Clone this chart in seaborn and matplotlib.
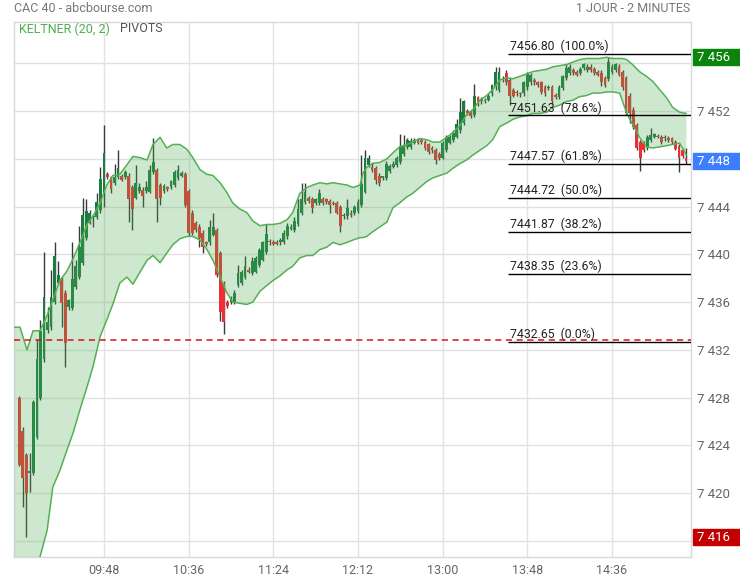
import matplotlib
matplotlib.use("Agg")
import matplotlib.pyplot as plt
import seaborn as sns
import pandas as pd
from matplotlib.patches import Rectangle
from matplotlib.transforms import blended_transform_factory

# ==============================
# DATA (CAC 40, 2-minute candles from 09:00)
# ==============================
opens = [
    7428.0, 7425.2, 7423.2, 7421.7, 7421.7, 7424.7, 7428.0, 7431.2, 7433.7, 7433.9,
    7436.0, 7437.6, 7437.9, 7436.8, 7435.6, 7435.5, 7437.3, 7438.1, 7439.3, 7441.4,
    7442.6, 7443.1, 7443.1, 7443.7, 7445.1, 7446.7, 7446.5, 7446.0, 7446.5, 7446.6,
    7446.5, 7446.6, 7445.6, 7444.7, 7445.3, 7445.4, 7445.3, 7445.2, 7446.9, 7447.1,
    7445.8, 7445.3, 7445.6, 7445.6, 7445.8, 7446.4, 7446.6, 7446.7, 7445.3, 7443.5,
    7442.6, 7442.3, 7441.8, 7441.0, 7441.0, 7441.6, 7442.0, 7440.1, 7437.6, 7436.0,
    7436.0, 7436.0, 7437.4, 7437.6, 7438.1, 7438.7, 7438.4, 7438.5, 7439.1, 7439.5,
    7440.2, 7441.1, 7441.0, 7441.0, 7441.0, 7441.0, 7441.5, 7442.1, 7442.0, 7442.5,
    7443.5, 7444.4, 7444.7, 7444.6, 7444.3, 7444.3, 7444.6, 7444.6, 7444.5, 7444.3,
    7444.3, 7444.0, 7443.2, 7443.2, 7443.5, 7443.5, 7443.6, 7444.1, 7445.2, 7447.5,
    7447.3, 7447.2, 7446.6, 7446.4, 7446.4, 7447.0, 7447.3, 7447.5, 7447.7, 7448.4,
    7449.0, 7449.0, 7449.3, 7449.5, 7449.6, 7449.4, 7449.2, 7448.9, 7448.7, 7448.4,
    7448.1, 7448.7, 7449.3, 7449.6, 7449.8, 7450.4, 7451.0, 7452.0, 7451.9, 7451.7,
    7453.2, 7452.8, 7452.9, 7452.9, 7453.5, 7454.0, 7453.8, 7454.6, 7455.2, 7454.6,
    7453.8, 7453.6, 7453.5, 7453.5, 7454.0, 7454.4, 7454.6, 7454.4, 7454.4, 7454.0,
    7453.9, 7454.0, 7453.3, 7453.2, 7453.9, 7454.8, 7455.2, 7455.4, 7455.3, 7455.2,
    7455.6, 7455.4, 7455.7, 7455.5, 7455.3, 7455.2, 7454.8, 7454.7, 7455.3, 7455.4,
    7455.7, 7455.3, 7454.8, 7453.3, 7452.1, 7450.8, 7449.4, 7449.3, 7448.9, 7449.6,
    7449.8, 7449.9, 7449.8, 7449.7, 7449.7, 7449.7, 7449.4, 7449.1, 7448.7, 7448.1,
]
closes = [
    7422.4, 7421.3, 7420.0, 7421.8, 7427.6, 7431.2, 7433.6, 7436.4, 7434.3, 7436.4,
    7439.9, 7438.3, 7435.9, 7432.6, 7436.2, 7437.9, 7439.0, 7440.6, 7443.3, 7443.6,
    7443.5, 7443.2, 7444.4, 7446.3, 7448.5, 7446.5, 7445.5, 7446.5, 7447.2, 7446.2,
    7446.9, 7444.6, 7443.8, 7446.0, 7445.6, 7444.9, 7445.6, 7447.1, 7447.7, 7444.6,
    7444.7, 7445.7, 7445.5, 7446.1, 7446.9, 7447.1, 7446.8, 7444.1, 7441.8, 7441.8,
    7442.0, 7441.4, 7440.6, 7440.9, 7442.3, 7442.3, 7438.3, 7435.2, 7434.3, 7435.7,
    7436.3, 7436.8, 7438.4, 7438.5, 7439.0, 7438.5, 7439.4, 7439.7, 7440.4, 7441.0,
    7441.7, 7441.0, 7440.9, 7440.9, 7441.2, 7441.8, 7442.4, 7442.3, 7442.8, 7443.8,
    7444.6, 7445.2, 7444.5, 7443.9, 7444.6, 7445.1, 7444.3, 7444.4, 7444.1, 7444.2,
    7443.5, 7442.4, 7443.3, 7443.9, 7443.3, 7444.0, 7444.4, 7445.9, 7448.1, 7448.1,
    7447.1, 7446.2, 7446.0, 7446.5, 7447.6, 7447.4, 7447.6, 7448.1, 7449.1, 7449.1,
    7449.6, 7449.5, 7449.6, 7449.3, 7449.4, 7448.9, 7448.6, 7448.7, 7447.9, 7448.1,
    7449.3, 7449.8, 7449.8, 7450.2, 7450.9, 7451.9, 7452.8, 7451.8, 7451.6, 7453.3,
    7452.6, 7453.0, 7452.8, 7453.3, 7454.2, 7455.3, 7455.3, 7454.7, 7454.4, 7453.3,
    7453.3, 7453.5, 7453.4, 7454.4, 7455.2, 7455.0, 7454.4, 7454.2, 7453.6, 7453.5,
    7454.0, 7452.8, 7453.2, 7454.0, 7454.9, 7455.6, 7455.7, 7455.2, 7455.0, 7455.5,
    7455.9, 7455.7, 7455.4, 7455.2, 7455.0, 7454.4, 7454.2, 7456.1, 7455.7, 7455.9,
    7455.0, 7454.0, 7451.8, 7451.8, 7450.7, 7448.9, 7448.1, 7448.7, 7449.8, 7450.0,
    7450.1, 7449.8, 7449.4, 7449.8, 7449.6, 7449.4, 7448.8, 7448.1, 7448.2, 7447.8,
]
highs = [
    7428.1, 7425.5, 7423.4, 7423.4, 7427.8, 7432.8, 7434.5, 7440.2, 7435.6, 7438.7,
    7441.0, 7439.4, 7438.1, 7437.0, 7436.3, 7441.0, 7439.5, 7442.4, 7444.7, 7444.6,
    7443.7, 7443.4, 7445.1, 7447.3, 7450.8, 7446.9, 7446.6, 7447.6, 7448.7, 7446.7,
    7447.1, 7446.8, 7445.8, 7447.5, 7446.0, 7445.6, 7446.1, 7447.5, 7449.7, 7447.2,
    7446.0, 7445.9, 7445.7, 7446.2, 7447.1, 7447.5, 7447.0, 7446.9, 7445.5, 7443.7,
    7442.8, 7442.5, 7442.0, 7441.1, 7442.9, 7443.5, 7442.2, 7440.3, 7437.8, 7436.2,
    7436.5, 7437.0, 7439.1, 7438.7, 7439.9, 7438.9, 7439.8, 7439.9, 7440.5, 7441.1,
    7442.5, 7441.3, 7441.2, 7441.2, 7441.4, 7442.0, 7442.6, 7442.5, 7443.1, 7444.6,
    7446.0, 7446.0, 7444.9, 7444.8, 7444.7, 7445.5, 7444.8, 7444.7, 7444.6, 7444.5,
    7444.5, 7444.1, 7443.5, 7444.6, 7443.7, 7444.1, 7444.6, 7448.3, 7448.7, 7448.3,
    7447.7, 7447.4, 7446.8, 7446.6, 7447.8, 7447.6, 7447.8, 7448.2, 7450.1, 7450.0,
    7449.7, 7449.7, 7449.7, 7449.7, 7449.7, 7449.6, 7449.3, 7449.1, 7448.9, 7448.6,
    7449.5, 7450.0, 7450.0, 7450.4, 7451.3, 7453.1, 7452.9, 7452.2, 7452.1, 7454.3,
    7453.3, 7453.2, 7453.1, 7453.5, 7454.3, 7455.7, 7455.7, 7454.9, 7455.4, 7454.8,
    7453.9, 7453.8, 7453.6, 7454.5, 7455.3, 7455.2, 7454.8, 7454.5, 7454.5, 7454.2,
    7454.2, 7454.2, 7453.5, 7454.2, 7455.0, 7455.9, 7455.9, 7455.6, 7455.4, 7455.7,
    7456.0, 7455.9, 7455.9, 7455.7, 7455.4, 7455.4, 7454.9, 7456.5, 7455.9, 7456.0,
    7455.9, 7455.4, 7454.9, 7453.5, 7452.3, 7451.0, 7449.6, 7449.5, 7450.0, 7450.6,
    7450.2, 7450.1, 7450.0, 7450.0, 7449.9, 7449.8, 7449.6, 7449.2, 7448.9, 7448.9,
]
lows = [
    7422.3, 7418.8, 7416.3, 7420.1, 7421.5, 7424.5, 7427.8, 7431.0, 7433.4, 7433.7,
    7435.8, 7437.4, 7433.9, 7430.6, 7435.3, 7435.3, 7437.1, 7437.9, 7439.1, 7441.2,
    7442.5, 7442.3, 7443.0, 7443.5, 7444.0, 7446.3, 7445.1, 7445.8, 7446.3, 7446.1,
    7446.3, 7442.7, 7442.0, 7444.6, 7445.1, 7444.0, 7445.1, 7445.1, 7446.7, 7442.7,
    7444.1, 7445.1, 7445.3, 7445.5, 7445.6, 7446.2, 7446.5, 7444.0, 7441.5, 7441.6,
    7441.9, 7440.6, 7440.1, 7440.7, 7440.8, 7441.5, 7438.1, 7434.4, 7433.3, 7435.5,
    7435.8, 7435.8, 7437.3, 7437.4, 7437.9, 7438.4, 7438.3, 7438.4, 7438.9, 7439.4,
    7440.0, 7440.8, 7440.8, 7440.8, 7440.8, 7440.9, 7441.3, 7442.0, 7441.9, 7442.4,
    7443.3, 7444.2, 7444.3, 7443.5, 7444.1, 7444.1, 7444.1, 7444.2, 7443.5, 7444.1,
    7443.4, 7441.9, 7443.0, 7443.0, 7443.1, 7443.3, 7443.5, 7444.0, 7445.1, 7447.3,
    7446.9, 7445.9, 7445.7, 7446.2, 7446.2, 7446.8, 7447.2, 7447.3, 7447.6, 7448.2,
    7448.8, 7448.8, 7449.2, 7449.2, 7449.2, 7448.7, 7448.4, 7448.5, 7447.6, 7447.9,
    7448.0, 7448.6, 7449.2, 7449.4, 7449.7, 7450.2, 7450.8, 7451.7, 7451.4, 7451.5,
    7452.4, 7452.6, 7452.7, 7452.8, 7453.3, 7453.8, 7453.6, 7454.4, 7454.2, 7452.5,
    7453.2, 7453.3, 7453.2, 7453.3, 7453.8, 7454.2, 7454.2, 7454.0, 7453.4, 7453.3,
    7453.8, 7452.6, 7453.0, 7453.0, 7453.8, 7454.6, 7455.0, 7455.0, 7454.9, 7455.0,
    7455.4, 7455.3, 7455.3, 7455.0, 7454.9, 7454.1, 7454.0, 7454.5, 7455.1, 7455.3,
    7454.9, 7453.8, 7451.7, 7451.0, 7450.5, 7448.7, 7447.0, 7448.6, 7448.7, 7449.4,
    7449.7, 7449.7, 7449.2, 7449.5, 7449.4, 7449.2, 7448.7, 7446.9, 7448.1, 7447.6,
]

# Keltner (20, 2) band (x in candle units)
band_t = [
    -1.3, 0.2, 2.2, 3.9, 5.9, 7.9, 9.5, 11.5, 13.5, 15.2, 17.2, 19.2, 20.9, 22.9,
    24.8, 26.5, 28.5, 30.5, 32.2, 34.2, 36.2, 37.9, 39.9, 41.8, 43.5, 45.5, 47.5,
    49.2, 51.2, 53.2, 54.9, 56.9, 58.8, 60.5, 62.5, 64.5, 66.2, 68.2, 70.2, 71.9,
    73.9, 75.9, 77.5, 79.5, 81.5, 83.2, 85.2, 87.2, 88.9, 90.9, 92.9, 94.6, 96.6,
    97.4, 98.5, 100.2, 102.2, 104.2, 105.9, 107.8, 109.8, 111.5, 113.5, 115.5,
    117.2, 119.2, 121.2, 122.9, 124.9, 126.8, 128.5, 130.5, 132.5, 134.2, 136.2,
    138.2, 139.9, 141.8, 143.8, 145.5, 147.5, 149.5, 151.2, 153.2, 155.2, 156.9,
    158.8, 160.8, 162.5, 164.5, 166.5, 168.2, 170.2, 171.0, 172.2, 173.8, 175.8,
    177.8, 179.5, 181.5, 183.5, 185.2, 187.2, 189.1,
]
band_up = [
    7433.9, 7433.9, 7432.0, 7433.6, 7433.6, 7434.9, 7436.2, 7437.8, 7438.6, 7439.6,
    7441.0, 7442.5, 7443.2, 7444.3, 7445.8, 7446.6, 7446.7, 7447.5, 7448.2, 7448.1,
    7447.9, 7449.2, 7449.8, 7448.9, 7449.2, 7449.2, 7448.8, 7448.1, 7447.1, 7446.7,
    7446.6, 7446.0, 7445.2, 7444.3, 7443.8, 7443.5, 7442.8, 7442.4, 7442.5, 7442.5,
    7442.6, 7442.9, 7443.5, 7445.1, 7445.6, 7445.8, 7446.0, 7445.9, 7446.0, 7445.9,
    7445.8, 7445.6, 7445.8, 7446.8, 7447.3, 7447.6, 7447.7, 7448.0, 7448.5, 7449.0,
    7449.2, 7449.4, 7449.7, 7449.6, 7449.4, 7449.4, 7449.8, 7450.2, 7450.8, 7451.7,
    7452.1, 7452.9, 7453.3, 7453.8, 7454.6, 7454.8, 7454.7, 7454.9, 7455.1, 7455.3,
    7455.4, 7455.5, 7455.7, 7455.8, 7455.9, 7456.1, 7456.3, 7456.4, 7456.4, 7456.4,
    7456.5, 7456.4, 7456.4, 7456.4, 7456.3, 7455.9, 7455.3, 7454.9, 7454.5, 7453.8,
    7453.1, 7452.3, 7451.9, 7451.8,
]
band_lo = [
    7404.4, 7406.0, 7409.0, 7411.6, 7414.7, 7416.9, 7420.5, 7421.9, 7423.6, 7425.0,
    7427.0, 7428.9, 7430.6, 7433.1, 7434.5, 7435.8, 7437.6, 7438.1, 7437.5, 7438.5,
    7439.5, 7439.9, 7439.3, 7440.1, 7440.8, 7441.3, 7441.5, 7441.5, 7441.2, 7440.4,
    7439.5, 7438.1, 7436.8, 7436.0, 7435.9, 7435.8, 7436.0, 7436.9, 7437.4, 7437.8,
    7438.2, 7438.7, 7439.0, 7439.7, 7439.9, 7439.9, 7440.4, 7440.6, 7441.0, 7440.8,
    7441.0, 7441.2, 7441.4, 7441.4, 7441.5, 7441.9, 7442.3, 7442.7, 7443.9, 7444.3,
    7444.8, 7445.1, 7445.6, 7446.1, 7446.4, 7446.6, 7446.8, 7447.2, 7447.6, 7447.9,
    7448.3, 7448.7, 7449.1, 7449.6, 7450.7, 7451.0, 7451.3, 7451.5, 7451.6, 7451.8,
    7451.8, 7451.9, 7452.3, 7452.5, 7452.8, 7452.9, 7453.2, 7453.3, 7453.5, 7453.5,
    7453.6, 7453.6, 7453.5, 7452.8, 7451.8, 7450.9, 7449.8, 7449.0, 7448.9, 7449.0,
    7449.1, 7449.2, 7449.3, 7448.3,
]

# Fibonacci pivots
fib_values = [7456.80, 7451.63, 7447.57, 7444.72, 7441.87, 7438.35, 7432.65]
fib_pcts = [100.0, 78.6, 61.8, 50.0, 38.2, 23.6, 0.0]
prev_close = 7432.85

tick_labels = ["09:48", "10:36", "11:24", "12:12", "13:00", "13:48", "14:36"]
y_ticks = [7416, 7420, 7424, 7428, 7432, 7436, 7440, 7444, 7448, 7452, 7456]

# ==============================
# FIGURE
# ==============================
sns.set_style("white")
plt.rcParams['font.family'] = ['Roboto', 'DejaVu Sans']

W, H = 740, 580
fig = plt.figure(figsize=(W / 100, H / 100), dpi=100)
ax = fig.add_axes([14 / W, 1 - 556.7 / H, (691 - 14) / W, (556.7 - 21.7) / H])

n = len(opens)
idx = list(range(n))
up = [c >= o for o, c in zip(opens, closes)]
GREEN, RED = "#1b7c42", "#ee2e34"
colors = [GREEN if u else RED for u in up]

# candles
ax.vlines(idx, lows, highs, color="#3a3a3a", lw=1, zorder=2)
bottoms = [min(o, c) for o, c in zip(opens, closes)]
heights = [max(abs(c - o), 0.12) for o, c in zip(opens, closes)]
ax.bar(idx, heights, bottom=bottoms, width=0.8, color=colors, lw=0, zorder=2)

# keltner band on top of candles
band = pd.DataFrame({"t": band_t, "up": band_up, "lo": band_lo})
ax.fill_between(band["t"], band["lo"], band["up"], color="#4caf50", alpha=0.28, lw=0, zorder=3)
sns.lineplot(data=band, x="t", y="up", ax=ax, color="#55b055", lw=1.1, zorder=4)
sns.lineplot(data=band, x="t", y="lo", ax=ax, color="#55b055", lw=1.1, zorder=4)

x0, x1 = -1.5, 190.4
ax.set_xlim(x0, x1)
ax.set_ylim(7414.68, 7459.48)

# previous close dashed line
ax.axhline(prev_close, color="#d8121a", lw=1.1, ls=(0, (4, 3)), zorder=5)

# fib pivots
fib_start = 138.5
for v, p in zip(fib_values, fib_pcts):
    ax.hlines(v, fib_start, x1, color="black", lw=1, zorder=5)
    ax.text(fib_start + 0.6, v + 0.05, f"{v:.2f}  ({p:.1f}%)", fontsize=8.8,
            color="#222222", va="bottom", ha="left", zorder=6)

# axes / grid
times = [int(t[:2]) * 60 + int(t[3:]) for t in tick_labels]
x_ticks = [(m - 540) / 2 for m in times]
ax.set_xticks(x_ticks)
ax.set_xticklabels(tick_labels)

# price boxes on the right axis (day high, last, day low)
day_high = max(highs)
day_low = min(lows)
last = closes[-1]
boxed = [round(day_high), round(day_low)]

ax.set_yticks(y_ticks)
ax.set_yticklabels(["" if v in boxed else f"{v // 1000} {v % 1000:03d}" for v in y_ticks])
ax.yaxis.tick_right()
ax.tick_params(axis="x", length=0, pad=5, labelsize=9, labelcolor="#666666")
ax.tick_params(axis="y", length=0, pad=4.5, labelsize=9.5, labelcolor="#666666")
ax.grid(True, color="#e2e2e2", lw=1)
ax.set_axisbelow(True)
ax.set_xlabel("")
ax.set_ylabel("")
for s in ax.spines.values():
    s.set_color("#d8d8d8")
    s.set_linewidth(1)

trans = blended_transform_factory(fig.transFigure, ax.transData)
for val, col in [(day_high, "#0a840a"), (last, "#3d7dff"), (day_low, "#c30000")]:
    ax.add_patch(Rectangle((693 / W, val - 0.68), 47 / W, 1.36, transform=trans,
                           color=col, clip_on=False, zorder=10))
    lab = round(val)
    ax.text(697 / W, val, f"{lab // 1000} {lab % 1000:03d}", transform=trans,
            color="white", fontsize=9.5, va="center", ha="left", zorder=11)

# header texts
fig.text(14 / W, 1 - 9 / H, "CAC 40 - abcbourse.com", color="#777777", fontsize=9, va="center")
fig.text(690 / W, 1 - 9 / H, "1 JOUR - 2 MINUTES", color="#777777", fontsize=9, va="center", ha="right")
fig.text(19 / W, 1 - 29 / H, "KELTNER (20, 2)", color="#4caf50", fontsize=9, va="center")
fig.text(120 / W, 1 - 29 / H, "PIVOTS", color="#555555", fontsize=9, va="center")

fig.savefig("out.png", dpi=100)
